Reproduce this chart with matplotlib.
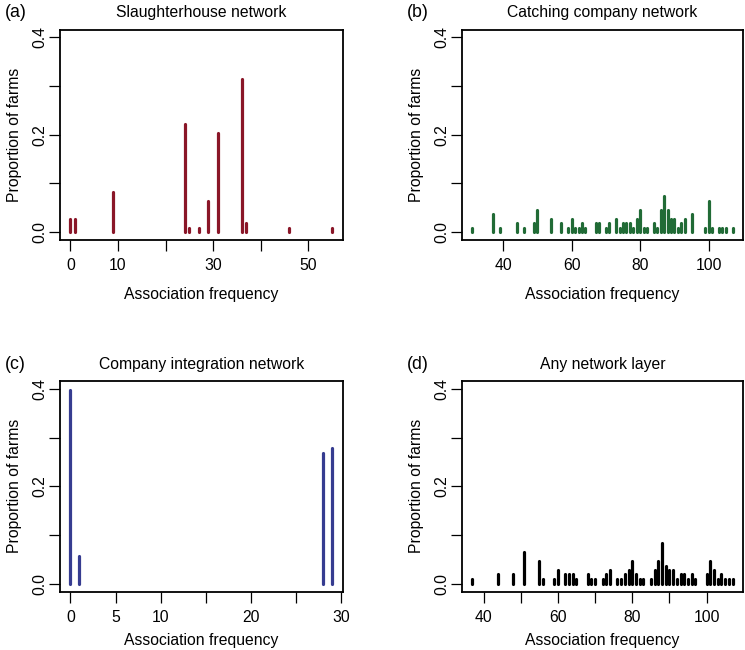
import matplotlib
matplotlib.use("Agg")
import matplotlib.pyplot as plt

plt.rcParams['font.family'] = ['Liberation Sans', 'DejaVu Sans']

# --- data (proportion of farms per association frequency) ---
slaughter_x = [0, 1, 9, 24, 25, 27, 29, 31, 36, 37, 46, 55]
slaughter_y = [0.028, 0.028, 0.083, 0.222, 0.009, 0.009, 0.065, 0.204, 0.315, 0.019, 0.009, 0.009]

catching_x = [31, 37, 39, 44, 46, 49, 50, 54, 57, 59, 60, 61, 62, 63, 64, 67, 68, 70, 71, 73,
              74, 75, 76, 77, 78, 79, 80, 81, 82, 84, 85, 86, 87, 88, 89, 90, 91, 92, 93, 95,
              99, 100, 101, 103, 104, 105, 107]
catching_y = [0.009, 0.037, 0.009, 0.019, 0.009, 0.019, 0.046, 0.028, 0.019, 0.009, 0.028, 0.009,
              0.009, 0.019, 0.009, 0.019, 0.019, 0.009, 0.019, 0.028, 0.009, 0.019, 0.019, 0.019,
              0.009, 0.028, 0.046, 0.009, 0.009, 0.019, 0.009, 0.046, 0.074, 0.046, 0.028, 0.028,
              0.009, 0.019, 0.028, 0.037, 0.009, 0.065, 0.009, 0.009, 0.009, 0.009, 0.009]

integration_x = [0, 1, 28, 29]
integration_y = [0.398, 0.056, 0.269, 0.278]

any_x = [37, 44, 48, 51, 55, 56, 59, 60, 62, 63, 64, 65, 68, 69, 70, 72, 73, 74, 76, 77,
         78, 79, 80, 81, 82, 83, 85, 86, 87, 88, 89, 90, 91, 92, 93, 94, 95, 96, 97, 100,
         101, 102, 103, 104, 105, 106, 107]
any_y = [0.009, 0.019, 0.019, 0.065, 0.046, 0.009, 0.009, 0.028, 0.019, 0.019, 0.019, 0.009,
         0.019, 0.009, 0.009, 0.009, 0.019, 0.028, 0.009, 0.009, 0.019, 0.028, 0.046, 0.019,
         0.009, 0.009, 0.009, 0.028, 0.046, 0.083, 0.037, 0.028, 0.028, 0.009, 0.019, 0.019,
         0.009, 0.019, 0.009, 0.019, 0.046, 0.028, 0.009, 0.019, 0.009, 0.009, 0.009]

# --- panel setup ---
W, H = 745, 650
panels = [
    # (x, y, colour, title, tag, box px [l, t, r, b], xticks, xticklabels, xlabel gap px)
    (slaughter_x, slaughter_y, '#8a1628', 'Slaughterhouse network', '(a)',
     [60, 29.5, 342.5, 240], [0, 10, 20, 30, 40, 50], ['0', '10', '', '30', '', '50'], 44),
    (catching_x, catching_y, '#216b36', 'Catching company network', '(b)',
     [462, 29.5, 743, 240], [40, 60, 80, 100], ['40', '60', '80', '100'], 44),
    (integration_x, integration_y, '#363c90', 'Company integration network', '(c)',
     [60, 381, 342.5, 591.5], [0, 5, 10, 15, 20, 25, 30], ['0', '5', '10', '', '20', '', '30'], 39),
    (any_x, any_y, 'black', 'Any network layer', '(d)',
     [462, 381, 743, 591.5], [40, 50, 60, 70, 80, 90, 100], ['40', '', '60', '', '80', '', '100'], 39),
]

fig = plt.figure(figsize=(W / 100, H / 100), dpi=100)
fs = 11.3

for xs, ys, col, title, tag, box, xt, xtl, xl_gap in panels:
    l, t, r, b = box
    hpx = b - t
    wpx = r - l
    ax = fig.add_axes([l / W, 1 - b / H, wpx / W, hpx / H])
    ax.vlines(xs, 0, ys, colors=col, linewidth=2.3, capstyle='round')

    # R-style 4% padding around the data range
    span = max(xs) - min(xs)
    ax.set_xlim(min(xs) - 0.04 * span, max(xs) + 0.04 * span)
    ax.set_ylim(-0.016, 0.416)

    ax.set_xticks(xt)
    ax.set_xticklabels(xtl)
    ax.set_yticks([0.0, 0.1, 0.2, 0.3, 0.4])
    ax.set_yticklabels(['0.0', '', '0.2', '', '0.4'])
    ax.tick_params(axis='both', direction='out', length=8, width=0.9, labelsize=fs)
    ax.tick_params(axis='x', pad=5)
    ax.tick_params(axis='y', pad=1, labelrotation=90)
    for lab in ax.get_yticklabels():
        lab.set_va('center')

    for sp in ax.spines.values():
        sp.set_linewidth(1.3)

    ax.set_xlabel('Association frequency', fontsize=fs)
    ax.xaxis.set_label_coords(0.5, -(xl_gap + 3) / hpx)
    ax.set_ylabel('Proportion of farms', fontsize=fs)
    ax.yaxis.set_label_coords(-38 / wpx, 0.5)

    ax.text(0.5, 1 + 17 / hpx, title, transform=ax.transAxes, ha='center', va='center', fontsize=fs)
    fig.text((l - 55) / W, 1 - (t - 17) / H, tag, ha='left', va='center', fontsize=12.8)

fig.savefig('out.png', dpi=100)
